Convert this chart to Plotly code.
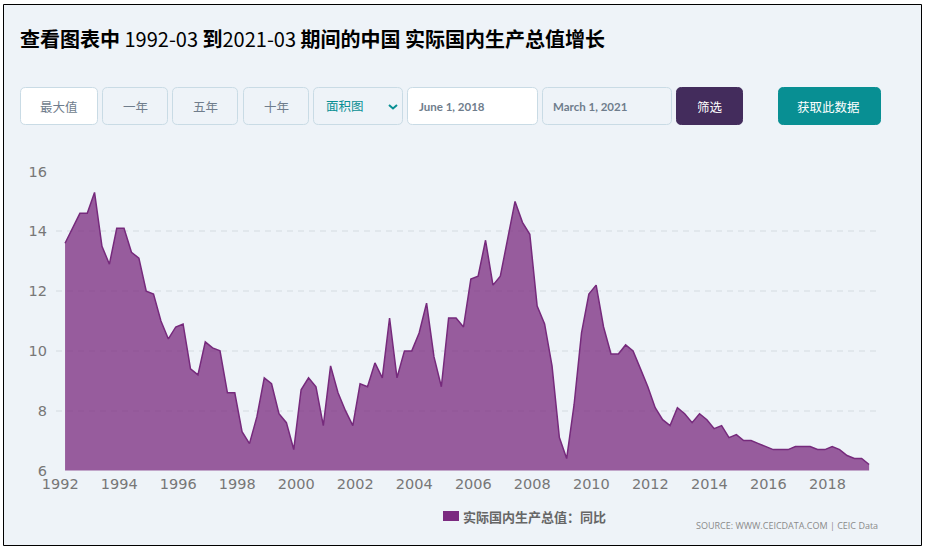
import pandas as pd
import plotly.graph_objects as go

W = 926
H = 551

# quarterly, 1992-03 to 2019-06
dates = pd.date_range("1992-03-01", periods=110, freq="3MS")
gdp_growth = [
    13.6, 14.1, 14.6, 14.6,
    15.3, 13.5, 12.9, 14.1,
    14.1, 13.3, 13.1, 12.0,
    11.9, 11.0, 10.4, 10.8,
    10.9, 9.4, 9.2, 10.3,
    10.1, 10.0, 8.6, 8.6,
    7.3, 6.9, 7.8, 9.1,
    8.9, 7.9, 7.6, 6.7,
    8.7, 9.1, 8.8, 7.5,
    9.5, 8.6, 8.0, 7.5,
    8.9, 8.8, 9.6, 9.1,
    11.1, 9.1, 10.0, 10.0,
    10.6, 11.6, 9.8, 8.8,
    11.1, 11.1, 10.8, 12.4,
    12.5, 13.7, 12.2, 12.5,
    13.8, 15.0, 14.3, 13.9,
    11.5, 10.9, 9.5, 7.1,
    6.4, 8.2, 10.6, 11.9,
    12.2, 10.8, 9.9, 9.9,
    10.2, 10.0, 9.4, 8.8,
    8.1, 7.7, 7.5, 8.1,
    7.9, 7.6, 7.9, 7.7,
    7.4, 7.5, 7.1, 7.2,
    7.0, 7.0, 6.9, 6.8,
    6.7, 6.7, 6.7, 6.8,
    6.8, 6.8, 6.7, 6.7,
    6.8, 6.7, 6.5, 6.4,
    6.4, 6.2,
]

title_html = ("<b>查看图表中</b> 1992-03 <b>到</b>2021-03 <b>期间的中国 实际国内生产总值增长</b>")
series_name = "实际国内生产总值：同比"
source_text = "SOURCE: WWW.CEICDATA.COM | CEIC Data"

BG = "#eef3f8"
EDGE = "#c9dbe5"
GREY = "#6f7d8c"
CJK = "Noto Sans CJK SC"


def px(x):
    return x / W


def py(y):
    return 1 - y / H


def rounded(x0, y0, x1, y1, fill, line=EDGE, r=5):
    a, b, c, d = px(x0 + 0.5), py(y0 + 0.5), px(x1 + 0.5), py(y1 + 0.5)
    rx, ry = r / W, r / H
    path = (f"M {a+rx} {b} L {c-rx} {b} Q {c} {b} {c} {b-ry} L {c} {d+ry} Q {c} {d} {c-rx} {d} "
            f"L {a+rx} {d} Q {a} {d} {a} {d+ry} L {a} {b-ry} Q {a} {b} {a+rx} {b} Z")
    return dict(type="path", path=path, xref="paper", yref="paper", fillcolor=fill,
                line=dict(color=line, width=1), layer="below")


def label(x, y, text, size=12.5, color=GREY, font=CJK, anchor="center"):
    return dict(x=px(x), y=py(y), xref="paper", yref="paper", text=text, showarrow=False,
                xanchor=anchor, yanchor="middle", align=anchor,
                font=dict(family=font, size=size, color=color))


fig = go.Figure()
fig.add_trace(go.Scatter(
    x=dates, y=gdp_growth, mode="lines", name=series_name, showlegend=False,
    fill="tozeroy", fillcolor="rgba(124,45,128,0.76)",
    line=dict(color="#762a7c", width=1.5),
))

shapes = [
    dict(type="rect", xref="paper", yref="paper", x0=px(3.5), x1=px(921.5), y0=py(4.5), y1=py(545.5),
         fillcolor=BG, line=dict(color="#000000", width=1), layer="below"),
    rounded(20, 87, 97, 124, "#ffffff"),
    rounded(102, 87, 167, 124, BG),
    rounded(172, 87, 237, 124, BG),
    rounded(243, 87, 308, 124, BG),
    rounded(313, 87, 402, 124, BG),
    rounded(407, 87, 537, 124, "#ffffff"),
    rounded(542, 87, 671, 124, BG),
    rounded(676, 87, 742, 124, "#432c5c", "#432c5c"),
    rounded(778, 87, 880, 124, "#088f93", "#088f93"),
    dict(type="path", xref="paper", yref="paper", layer="above",
         path=f"M {px(389)} {py(105)} L {px(393)} {py(108.5)} L {px(397)} {py(105)}",
         line=dict(color="#088f93", width=2)),
    dict(type="rect", xref="paper", yref="paper", x0=px(443), x1=px(459), y0=py(511), y1=py(521),
         fillcolor="#7b2a80", line=dict(width=0)),
]

annotations = [
    label(18, 38.5, title_html, size=20, color="#000000", anchor="left"),
    label(58.5, 106.5, "最大值"),
    label(135, 106.5, "一年"),
    label(205, 106.5, "五年"),
    label(276, 106.5, "十年"),
    label(345, 105.5, "面积图", color="#088f93"),
    label(417, 106.5, "<b>June 1, 2018</b>", size=11.5, font="Lato", anchor="left"),
    label(551, 106.5, "<b>March 1, 2021</b>", size=11.5, font="Lato", anchor="left"),
    label(709.5, 106.5, "筛选", color="#ffffff"),
    label(828.5, 106.5, "获取此数据", color="#ffffff"),
    label(461, 516, f"<b>{series_name}</b>", size=13, color="#666666", anchor="left"),
    label(880, 525.5, source_text, size=9, color="#8a8a8a", font="Open Sans", anchor="right"),
]

fig.update_layout(
    width=W, height=H, autosize=False,
    margin=dict(l=0, r=0, t=0, b=0),
    paper_bgcolor="#ffffff", plot_bgcolor="rgba(0,0,0,0)",
    shapes=shapes, annotations=annotations,
    xaxis=dict(
        domain=[px(56), px(878)], type="date", automargin=False,
        range=["1991-11-10", "2019-09-19"],
        tick0="1992-01-01", dtick="M24", tickformat="%Y",
        showgrid=False, zeroline=False, showline=False, ticks="", ticklabelstandoff=3,
        tickfont=dict(family="DejaVu Sans", size=14.5, color="#777777"),
    ),
    yaxis=dict(
        domain=[py(470.5), py(171.5)], range=[6, 16], tick0=6, dtick=2, automargin=False,
        gridcolor="#e1e7ec", griddash="6px,5px", gridwidth=1.5,
        zeroline=False, showline=False, ticks="", ticklabelstandoff=8,
        tickfont=dict(family="DejaVu Sans", size=14.5, color="#777777"),
    ),
)

fig.write_html("out.html", config=dict(displayModeBar=False),
               post_script="document.body.style.margin='0';document.body.style.overflow='hidden';")
